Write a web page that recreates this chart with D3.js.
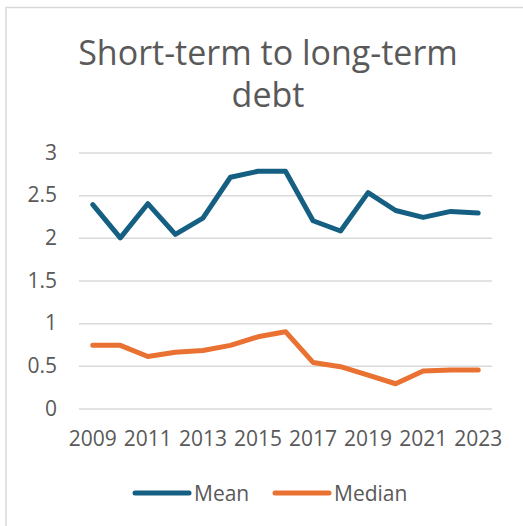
<!DOCTYPE html>
<html>
<head>
<meta charset="utf-8">
<title>Short-term to long-term debt</title>
<script src="https://cdn.jsdelivr.net/npm/d3@7"></script>
<style>
	body { margin: 0; background: #fff; }
	svg { display: block; }
	text { font-family: "Open Sans", "Noto Sans", sans-serif; fill: #595959; }
</style>
</head>
<body>
<div id="chart"></div>
<script>
	// data
	const years = ["2009","2010","2011","2012","2013","2014","2015","2016","2017","2018","2019","2020","2021","2022","2023"];
	const mean = [2.39, 2.0, 2.4, 2.04, 2.23, 2.71, 2.78, 2.78, 2.2, 2.08, 2.53, 2.32, 2.24, 2.31, 2.29];
	const median = [0.74, 0.74, 0.61, 0.66, 0.68, 0.74, 0.84, 0.9, 0.54, 0.49, 0.39, 0.29, 0.44, 0.45, 0.45];
	const yTicks = [0, 0.5, 1, 1.5, 2, 2.5, 3];
	const xLabels = ["2009","2011","2013","2015","2017","2019","2021","2023"];
	const series = [
		{ name: "Mean", values: mean, color: "#156082" },
		{ name: "Median", values: median, color: "#E97132" }
	];

	const w = 523, h = 526;
	const pLeft = 79, pRight = 492, pTop = 152.5, pBottom = 408.5;

	let svg = d3.select("#chart")
		.append("svg")
		.attr("width", w)
		.attr("height", h);

	// chart frame (cropped)
	svg.append("rect")
		.attr("x", 6).attr("y", 7.5)
		.attr("width", 600).attr("height", 600)
		.attr("fill", "none")
		.attr("stroke", "#d9d9d9")
		.attr("stroke-width", 1.5);

	let x = d3.scaleBand().domain(years).range([pLeft, pRight]);
	let y = d3.scaleLinear().domain([0, 3]).range([pBottom, pTop]);

	// title
	svg.append("text")
		.attr("text-anchor", "middle")
		.attr("font-size", "34px")
		.selectAll("tspan")
		.data(["Short-term to long-term", "debt"])
		.enter()
		.append("tspan")
		.attr("x", 268)
		.attr("y", function(d, i){ return 65 + i * 42; })
		.text(function(d){ return d; });

	// gridlines + y labels
	let yAxis = d3.axisLeft(y)
		.tickValues(yTicks)
		.tickSize(-(pRight - pLeft))
		.tickPadding(22)
		.tickFormat(d3.format("~g"));

	let gy = svg.append("g")
		.attr("transform", "translate(" + pLeft + ",0)")
		.call(yAxis);
	gy.select(".domain").remove();
	gy.selectAll("line").attr("stroke", "#d9d9d9").attr("stroke-width", 1.5);
	gy.selectAll("text").attr("font-size", "21px").attr("fill", "#595959")
		.attr("font-family", null);

	// x labels
	let xAxis = d3.axisBottom(x)
		.tickValues(xLabels)
		.tickSize(0)
		.tickPadding(23);
	let gx = svg.append("g")
		.attr("transform", "translate(0," + pBottom + ")")
		.call(xAxis);
	gx.select(".domain").remove();
	gx.selectAll("text").attr("font-size", "21px").attr("fill", "#595959")
		.attr("font-family", null);

	// lines
	let line = d3.line()
		.x(function(d, i){ return x(years[i]) + x.bandwidth() / 2; })
		.y(function(d){ return y(d); });

	svg.selectAll("path.series")
		.data(series)
		.enter()
		.append("path")
		.attr("class", "series")
		.attr("d", function(d){ return line(d.values); })
		.attr("fill", "none")
		.attr("stroke", function(d){ return d.color; })
		.attr("stroke-width", 5)
		.attr("stroke-linejoin", "round")
		.attr("stroke-linecap", "round");

	// legend
	const legendX = [135, 275];
	let lg = svg.selectAll("g.legend")
		.data(series)
		.enter()
		.append("g")
		.attr("class", "legend")
		.attr("transform", function(d, i){ return "translate(" + legendX[i] + ",493)"; });

	lg.append("line")
		.attr("x1", 0).attr("x2", 54)
		.attr("stroke", function(d){ return d.color; })
		.attr("stroke-width", 5)
		.attr("stroke-linecap", "round");

	lg.append("text")
		.attr("x", 59)
		.attr("y", 7.5)
		.attr("font-size", "21px")
		.text(function(d){ return d.name; });
</script>
</body>
</html>
